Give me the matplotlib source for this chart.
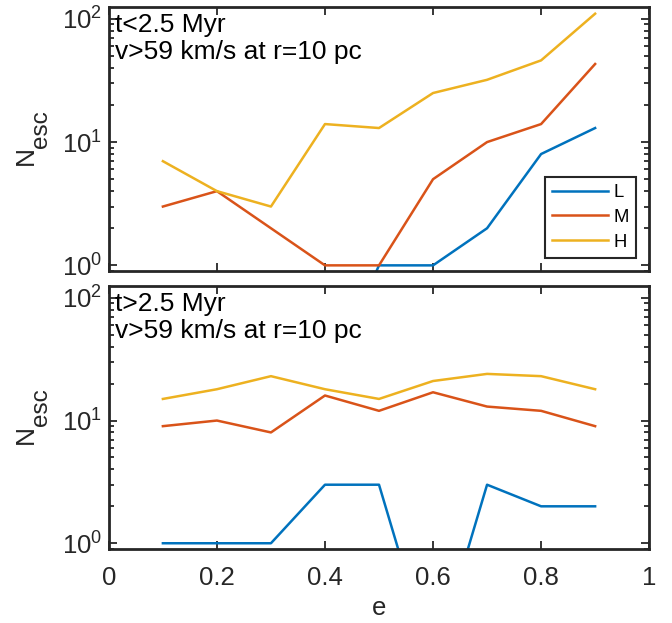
import matplotlib
matplotlib.use("Agg")
import matplotlib.pyplot as plt
import numpy as np

plt.rcParams['font.family'] = ['Liberation Sans', 'DejaVu Sans']
plt.rcParams['mathtext.fontset'] = 'custom'
plt.rcParams['mathtext.rm'] = 'Liberation Sans'
plt.rcParams['mathtext.it'] = 'Liberation Sans'
plt.rcParams['mathtext.bf'] = 'Liberation Sans'

# eccentricity bins
ecc = [0.1, 0.2, 0.3, 0.4, 0.5, 0.6, 0.7, 0.8, 0.9]

# t < 2.5 Myr
early_L = [np.nan, np.nan, np.nan, np.nan, 1, 1, 2, 8, 13]
early_M = [3, 4, 2, 1, 1, 5, 10, 14, 43]
early_H = [7, 4, 3, 14, 13, 25, 32, 46, 110]

# t > 2.5 Myr
late_L = [1, 1, 1, 3, 3, 0, 3, 2, 2]
late_M = [9, 10, 8, 16, 12, 17, 13, 12, 9]
late_H = [15, 18, 23, 18, 15, 21, 24, 23, 18]

labels = ["L", "M", "H"]
colors = ["#0072BD", "#D95319", "#EDB120"]
line1 = ["t<2.5 Myr", "t>2.5 Myr"]
line2 = "v>59 km/s at r=10 pc"

axcol = "#262626"
fs = 18.5

fig = plt.figure(figsize=(6.72, 6.23), dpi=100)
ax1 = fig.add_axes([0.162, 0.565, 0.804, 0.424])
ax2 = fig.add_axes([0.162, 0.119, 0.804, 0.422])

panels = [(ax1, [early_L, early_M, early_H]), (ax2, [late_L, late_M, late_H])]

for k, (ax, series) in enumerate(panels):
    for ys, c, lab in zip(series, colors, labels):
        y = np.array(ys, dtype=float)
        # zero counts fall off the log axis
        y = np.where(y > 0, y, 0.1)
        ax.plot(ecc, y, color=c, lw=1.8, label=lab)
    ax.set_yscale('log')
    ax.set_xlim(0, 1)
    ax.set_ylim(0.9, 125)
    ax.set_xticks(np.arange(0, 1.01, 0.2))
    ax.tick_params(which='both', direction='in', top=True, right=True,
                   colors=axcol, labelsize=fs, width=1.3)
    ax.tick_params(which='major', length=6)
    ax.tick_params(which='minor', length=3.5)
    ax.tick_params(axis='y', pad=5)
    ax.tick_params(axis='x', pad=12.5)
    for s in ax.spines.values():
        s.set_linewidth(2.0)
        s.set_color(axcol)
    # N_esc label, MATLAB style (subscript nearly full size)
    ax.text(-0.154, 0.436, "N", transform=ax.transAxes, rotation=90,
            ha='center', va='center', fontsize=19, color=axcol)
    ax.text(-0.125, 0.538, "esc", transform=ax.transAxes, rotation=90,
            ha='center', va='center', fontsize=17.5, color=axcol)
    ax.text(0.012, 0.905, line1[k], transform=ax.transAxes, va='baseline',
            ha='left', fontsize=19, color='black')
    ax.text(0.012, 0.803, line2, transform=ax.transAxes, va='baseline',
            ha='left', fontsize=19, color='black')

ax1.set_xticklabels([])
ax2.set_xticklabels(["0", "0.2", "0.4", "0.6", "0.8", "1"])
ax2.set_xlabel("e", fontsize=fs, color=axcol, labelpad=4)

leg = ax1.legend(loc='lower right', fontsize=13.3, frameon=True, fancybox=False,
                 handlelength=3.05, borderpad=0.4, labelspacing=0.42,
                 handletextpad=0.27, borderaxespad=0.7)
leg.get_frame().set_edgecolor(axcol)
leg.get_frame().set_linewidth(1.5)
leg.get_frame().set_alpha(1)

fig.savefig("out.png", dpi=100)
